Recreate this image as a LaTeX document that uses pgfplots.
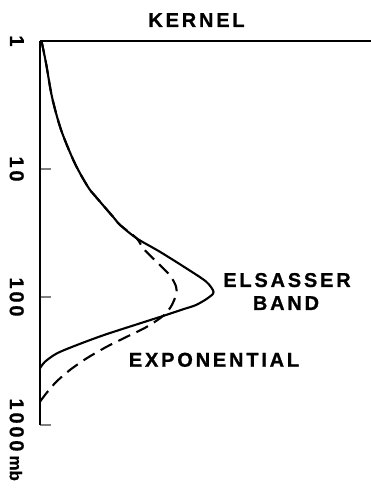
\documentclass[border=0pt]{standalone}
\usepackage{fontspec}
\usepackage{pgfplots}
\usepackage{pgfplotstable}
\pgfplotsset{compat=1.18}
\setmainfont{Liberation Sans}
\newfontfamily\lab[LetterSpace=14, BoldFeatures={FakeBold=0.8}]{Liberation Sans}
\newfontfamily\unitfont[BoldFeatures={FakeBold=0.8}]{Liberation Sans}
\newcommand\labfont{\lab\bfseries\fontsize{20pt}{24pt}\selectfont}

% kernel value (arbitrary units) against pressure (mb)
\pgfplotstableread{
k     p
1.5   1
6     1.486
12    2.738
21.1  4.958
34.7  8.98
48    13.82
56    16.55
73.2  23.71
80.1  27.38
96.6  34.78
119.8 44.27
146.3 59.68
166.2 75.95
173.5 91.4
168   101.8
156   115.5
144   124.1
123   140.7
98    162.5
64    198.2
37    237.1
17    275.4
5     320.3
0     360.6
}\elsasser

\pgfplotstableread{
k     p
1.5   1
6     1.486
12    2.738
21.1  4.958
34.7  8.98
48    13.82
56    16.55
73.2  23.71
80.1  27.38
96.6  34.78
103.1 41.65
113   49.86
129.6 67.3
136.1 83.1
136   96.4
130.9 119.1
123   140.7
107   170.7
86.9  204.3
66.8  244.4
46.7  301.2
29.9  371.8
16.4  458.8
6.3   565.3
0     657.8
}\exponential

\begin{document}
\begin{tikzpicture}
\begin{axis}[
  scale only axis,
  width=331pt, height=384pt,
  xmin=0, xmax=331,
  ymode=log, y dir=reverse,
  ymin=1, ymax=1000,
  clip=false,
  axis x line=top,
  axis y line=left,
  axis line style={-, line width=1.5pt},
  xtick=\empty,
  ytick={1,10,100,1000},
  yticklabels={1,10,100,{1000\rlap{\kern4pt\unitfont\bfseries\fontsize{17pt}{17pt}\selectfont mb}}},
  yminorticks=false,
  tick align=inside,
  major tick length=11pt,
  ytick style={line width=1.4pt},
  yticklabel style={font=\labfont, rotate=-90, anchor=north, inner sep=0pt},
  yticklabel shift=16pt,
]
\addplot[black, line width=2.1pt, smooth, dash pattern=on 13pt off 7pt] table[x=k, y=p] {\exponential};
\addplot[black, line width=2.1pt, smooth] table[x=k, y=p] {\elsasser};

\node[font=\labfont, anchor=base] at (axis cs:156.5,1) [yshift=14pt] {KERNEL};
\node[font=\labfont, anchor=base] at (axis cs:247,83.5) {ELSASSER};
\node[font=\labfont, anchor=base] at (axis cs:246,126.3) {BAND};
\node[font=\labfont, anchor=base] at (axis cs:174,350.4) {EXPONENTIAL};
\end{axis}
\pgfresetboundingbox
\path[use as bounding box] (-40pt,-64pt) rectangle (331pt,425pt);
\end{tikzpicture}
\end{document}
